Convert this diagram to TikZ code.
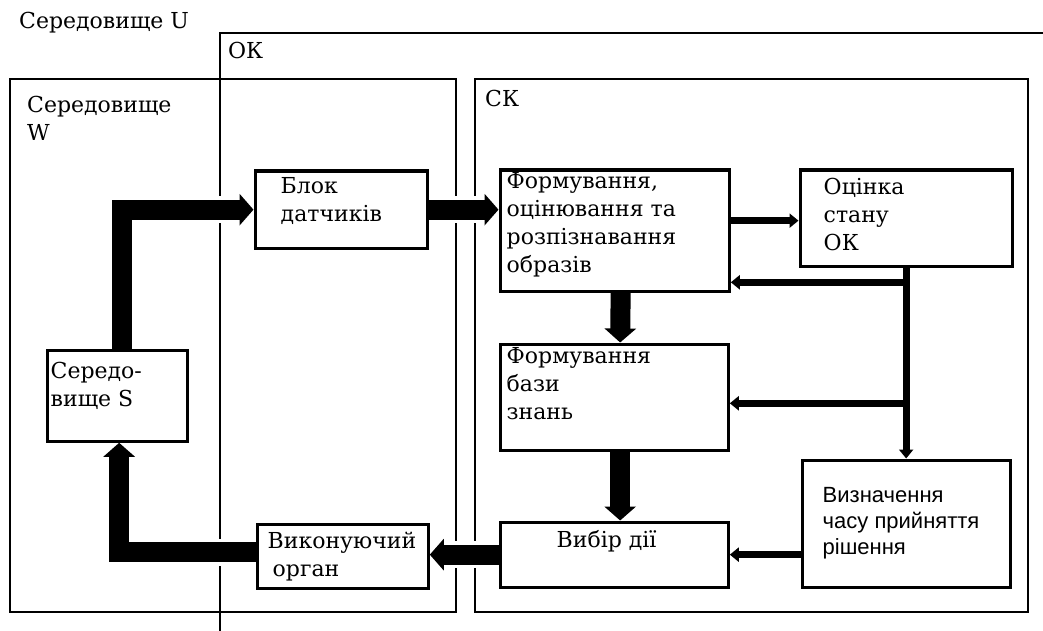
\documentclass[tikz,border=0pt]{standalone}
\usepackage{fontspec}
\setmainfont{DejaVu Serif}
\newfontfamily\sansfnt{Liberation Sans}
\usetikzlibrary{arrows.meta,positioning}
\tikzset{
  frame/.style={line width=1.2pt},
  blk/.style={draw, line width=3.3pt, anchor=north west, inner sep=0pt},
  txt/.style={inner sep=0pt, align=left, font=\fontsize{22}{28}\selectfont},
  sanstxt/.style={txt, font=\sansfnt\fontsize{22}{26}\selectfont},
  bigarrow/.style={line width=20pt, line join=miter, -{Triangle[width=31pt,length=14pt]},
    preaction={draw=white, line width=27pt, arrows=-, shorten <=5pt, shorten >=16pt}},
  midarrow/.style={line width=7pt, -{Triangle[width=14pt,length=9pt]}}
}
\begin{document}
\begin{tikzpicture}[x=1pt,y=-1pt]
      \useasboundingbox (0,0) rectangle (1043,631);
      \draw[frame] (220,631) -- (220,33) -- (1043,33);
      \draw[frame] (10,79) rectangle (456,612);
      \draw[frame] (475,79) rectangle (1028,612);
      \node[txt, anchor=north west] (envu) at (19,12) {Середовище U};
      \node[txt, anchor=north west] (okl) at (228,42) {ОК};
      \node[txt, anchor=north west] (envw) at (27,96) {Середовище\\W};
      \node[txt, anchor=north west] (skl) at (485,90) {СК};
      \node[blk, minimum width=172pt, minimum height=77pt] (blok) at (253.5,169.5) {};
      \node[blk, minimum width=229pt, minimum height=121pt] (form) at (498.5,168.5) {};
      \node[blk, minimum width=212pt, minimum height=96pt] (ocin) at (798.5,168.5) {};
      \node[blk, minimum width=228pt, minimum height=106pt] (baza) at (498.5,342.5) {};
      \node[blk, minimum width=208pt, minimum height=127pt] (vyzn) at (800.5,458.5) {};
      \node[blk, minimum width=228pt, minimum height=65pt] (vybir) at (498.5,520.5) {};
      \node[blk, minimum width=171pt, minimum height=64pt] (vykon) at (255.5,522.5) {};
      \node[blk, minimum width=140pt, minimum height=91pt] (sered) at (45.5,348.5) {};
      \node[txt, below right=8pt and 27pt of blok.north west] (blokt) {Блок\\датчиків};
      \node[txt, below right=4pt and 8pt of form.north west] (formt) {Формування,\\оцінювання та\\розпізнавання\\образів};
      \node[txt, below right=9pt and 25pt of ocin.north west] (ocint) {Оцінка\\стану\\ОК};
      \node[txt, below right=5pt and 8pt of baza.north west] (bazat) {Формування\\бази\\знань};
      \node[sanstxt, below right=29pt and 22pt of vyzn.north west] (vyznt) {Визначення\\часу прийняття\\рішення};
      \node[txt, below right=10pt and 58pt of vybir.north west] (vybirt) {Вибір дії};
      \node[txt, below right=9pt and 12pt of vykon.north west] (vykont) {Виконуючий\\\hspace*{5pt}орган};
      \node[txt, below right=13pt and 5pt of sered.north west] (seredt) {Середо-\\вище S};
      \draw[bigarrow] ([xshift=5pt]sered.north) |- (blok.west);
      \draw[bigarrow] (blok.east) -- (blok.east -| form.west);
      \draw[bigarrow] ([xshift=6pt]form.south) -- ([xshift=6pt]baza.north);
      \draw[bigarrow] ([xshift=6pt]baza.south) -- ([xshift=6pt]vybir.north);
      \draw[bigarrow] (vybir.west) -- (vybir.west -| vykon.east);
      \draw[bigarrow] ([yshift=4pt]vykon.west) -| ([xshift=2pt]sered.south);
      \coordinate (b1) at ([yshift=-14.5pt]ocin.south);
      \coordinate (b2) at ([yshift=-135.5pt]ocin.south);
      \begin{scope}[midarrow]
        \draw ([yshift=-2.5pt]form.east |- ocin.west) -- ([yshift=-2.5pt]ocin.west);
        \draw (ocin.south) -- (vyzn.north);
        \draw (b1) -- (b1 -| form.east);
        \draw (b2) -- (b2 -| baza.east);
        \draw (vyzn.west |- vybir.east) -- (vybir.east);
      \end{scope}
    \end{tikzpicture}
\end{document}
